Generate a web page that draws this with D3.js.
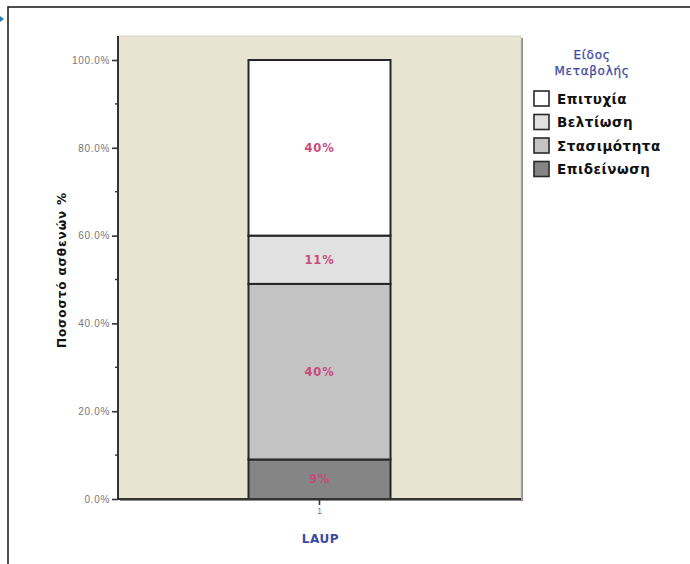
<!DOCTYPE html>
<html>
<head>
<meta charset="utf-8">
<script src="https://cdn.jsdelivr.net/npm/d3@7"></script>
<style>
  html, body { margin: 0; padding: 0; background: #ffffff; }
  svg { display: block; font-family: "DejaVu Sans", "Liberation Sans", Arial, sans-serif; }
</style>
</head>
<body>
<svg id="chart" width="690" height="564"></svg>
<script>
// Stacked 100% bar: change type for LAUP patients
const categories = ["1"];
const groupTitle = "LAUP";
const seriesNames = ["Επιδείνωση", "Στασιμότητα", "Βελτίωση", "Επιτυχία"];
const seriesValues = [9, 40, 11, 40];           // percent of patients, bottom to top
const seriesColors = ["#858585", "#c3c3c3", "#e1e1e1", "#ffffff"];
const yTickValues = [0, 20, 40, 60, 80, 100];
const yMinorTicks = [10, 30, 50, 70, 90];
const legendTitle = ["Είδος", "Μεταβολής"];
const legendOrder = ["Επιτυχία", "Βελτίωση", "Στασιμότητα", "Επιδείνωση"];
const yTitle = "Ποσοστό ασθενών %";

const svg = d3.select("#chart");

// Outer frame (only top/left edges fall inside the page)
svg.append("rect")
  .attr("x", 8).attr("y", 7).attr("width", 720).attr("height", 600)
  .attr("fill", "none").attr("stroke", "#222").attr("stroke-width", 1.6);

// small marker at the left edge
svg.append("path")
  .attr("d", "M0,16 L4,19 L0,22 Z")
  .attr("fill", "#2a7fc0");

const plot = { left: 118, right: 521, top: 36, bottom: 499 };

const y = d3.scaleLinear().domain([0, 100]).range([499, 60]);
const x = d3.scaleBand().domain(categories)
  .range([plot.left, plot.right]).paddingInner(0).paddingOuter(0.919);

// Plot background with a soft shadow at right/bottom
svg.append("rect")
  .attr("x", plot.left + 2).attr("y", plot.top + 2)
  .attr("width", plot.right - plot.left).attr("height", plot.bottom - plot.top)
  .attr("fill", "#8e8e88");
svg.append("rect")
  .attr("x", plot.left).attr("y", plot.top)
  .attr("width", plot.right - plot.left).attr("height", plot.bottom - plot.top)
  .attr("fill", "#e8e4d2").attr("stroke", "#cfcbbb").attr("stroke-width", 0.8);

// Stack the series
const row = {};
seriesNames.forEach((n, i) => row[n] = seriesValues[i]);
const stack = d3.stack().keys(seriesNames)([Object.assign({ cat: categories[0] }, row)]);

const bars = svg.append("g");
stack.forEach((layer, i) => {
  layer.forEach(d => {
    bars.append("rect")
      .attr("x", x(d.data.cat))
      .attr("y", y(d[1]))
      .attr("width", x.bandwidth())
      .attr("height", y(d[0]) - y(d[1]))
      .attr("fill", seriesColors[i])
      .attr("stroke", "#262626").attr("stroke-width", 2);
  });
});

// Value labels inside segments
stack.forEach((layer, i) => {
  layer.forEach(d => {
    svg.append("text")
      .attr("x", x(d.data.cat) + x.bandwidth() / 2)
      .attr("y", (y(d[0]) + y(d[1])) / 2)
      .attr("dy", "0.35em")
      .attr("text-anchor", "middle")
      .attr("font-size", 11.5).attr("font-weight", "bold")
      .attr("letter-spacing", 0.8)
      .attr("fill", "#c94a7c")
      .text(seriesValues[i] + "%");
  });
});

// Y axis
const yAxis = d3.axisLeft(y).tickValues(yTickValues).tickSize(6).tickPadding(2)
  .tickFormat(d => d.toFixed(1) + "%");
const gy = svg.append("g").attr("transform", `translate(${plot.left},0)`).call(yAxis);
gy.select(".domain").attr("stroke", "#333").attr("stroke-width", 2)
  .attr("d", `M0,${plot.top}V${plot.bottom}`);
gy.selectAll(".tick line").attr("stroke", "#333").attr("stroke-width", 1.6);
gy.selectAll(".tick text").attr("fill", "#777").attr("font-size", 10)
  .attr("letter-spacing", 0.7)
  .attr("font-family", "'Liberation Sans', Arial, sans-serif");
svg.append("g").selectAll("line").data(yMinorTicks).join("line")
  .attr("x1", plot.left - 3).attr("x2", plot.left)
  .attr("y1", d => y(d)).attr("y2", d => y(d))
  .attr("stroke", "#333").attr("stroke-width", 1.4);

// X axis
const xAxis = d3.axisBottom(x).tickSize(6).tickPadding(3);
const gx = svg.append("g").attr("transform", `translate(0,${plot.bottom})`).call(xAxis);
gx.select(".domain").attr("stroke", "#333").attr("stroke-width", 2)
  .attr("d", `M${plot.left},0H${plot.right}`);
gx.selectAll(".tick line").attr("stroke", "#333").attr("stroke-width", 1.6);
gx.selectAll(".tick text").attr("fill", "#777").attr("font-size", 8.5)
  .attr("font-family", "'Liberation Sans', Arial, sans-serif");

// Axis titles
svg.append("text")
  .attr("x", (plot.left + plot.right) / 2 + 1).attr("y", 543)
  .attr("text-anchor", "middle")
  .attr("font-size", 12).attr("font-weight", "bold").attr("fill", "#3b4aa3")
  .attr("letter-spacing", 0.6)
  .text(groupTitle);

svg.append("text")
  .attr("transform", "translate(66,270) rotate(-90)")
  .attr("text-anchor", "middle")
  .attr("font-size", 12).attr("font-weight", "bold").attr("fill", "#111")
  .attr("letter-spacing", 0.9)
  .text(yTitle);

// Legend
const legend = svg.append("g");
legend.selectAll("text.title").data(legendTitle).join("text")
  .attr("class", "title")
  .attr("x", 592).attr("y", (d, i) => 59 + i * 15.5)
  .attr("text-anchor", "middle")
  .attr("font-size", 12).attr("fill", "#3b4aa3")
  .attr("letter-spacing", 0.7)
  .attr("stroke", "#3b4aa3").attr("stroke-width", 0.25)
  .text(d => d);

const colorOf = d3.scaleOrdinal().domain(seriesNames).range(seriesColors);
const items = legend.selectAll("g.item").data(legendOrder).join("g")
  .attr("class", "item")
  .attr("transform", (d, i) => `translate(534,${91 + i * 23.5})`);
items.append("rect")
  .attr("width", 15).attr("height", 15)
  .attr("fill", d => colorOf(d))
  .attr("stroke", "#2a2a2a").attr("stroke-width", 1.6);
items.append("text")
  .attr("x", 23).attr("y", 8).attr("dy", "0.35em")
  .attr("font-size", 13.5).attr("font-weight", "bold").attr("fill", "#111")
  .attr("letter-spacing", 0.5)
  .text(d => d);
</script>
</body>
</html>
